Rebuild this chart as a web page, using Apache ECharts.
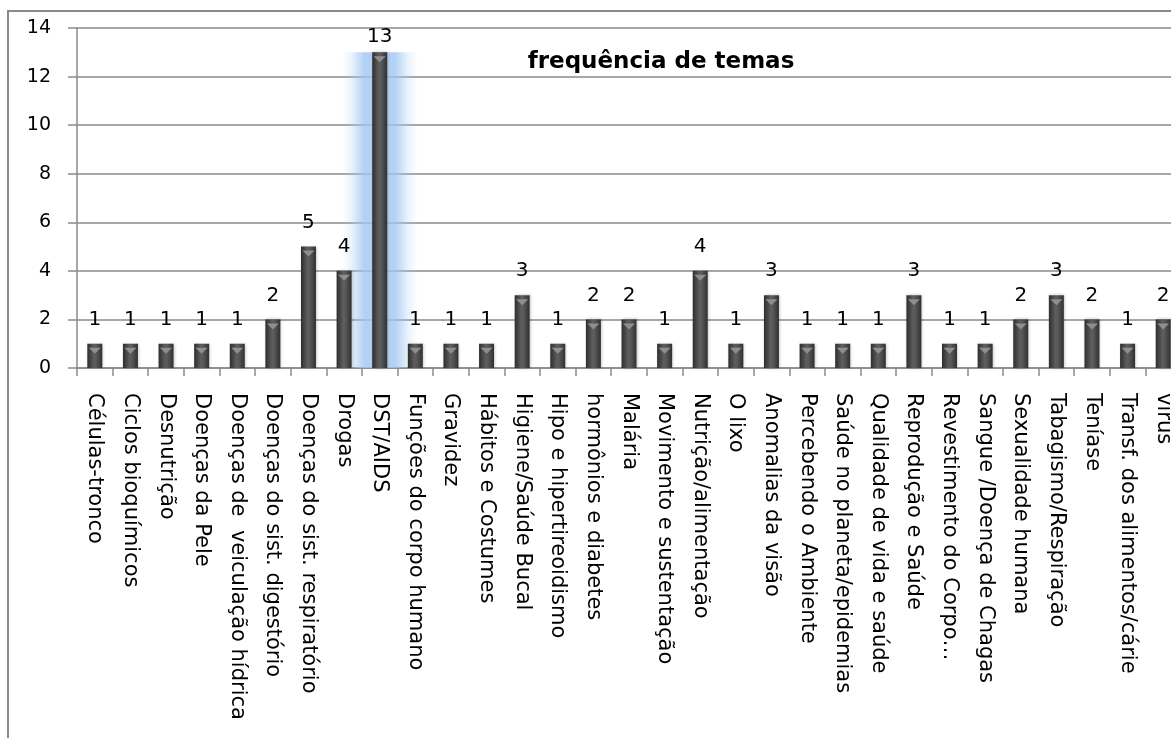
<!DOCTYPE html>
<html>
<head>
<meta charset="utf-8">
<script src="https://cdn.jsdelivr.net/npm/echarts@6/dist/echarts.min.js"></script>
<style>
html,body{margin:0;padding:0;background:#fff;overflow:hidden;width:1171px;height:738px;}
#frame{position:absolute;left:7px;top:10px;width:1300px;height:800px;border:2px solid #8a8a8a;box-sizing:border-box;}
#chart{position:absolute;left:0;top:0;width:1200px;height:738px;}
</style>
</head>
<body>
<div id="frame"></div>
<div id="chart"></div>
<script>
const categories = [
  "Células-tronco","Ciclos bioquímicos","Desnutrição","Doenças da Pele",
  "Doenças de  veiculação hídrica","Doenças do sist. digestório","Doenças do sist. respiratório",
  "Drogas","DST/AIDS","Funções do corpo humano","Gravidez","Hábitos e Costumes",
  "Higiene/Saúde Bucal","Hipo e hipertireoidismo","hormônios e diabetes","Malária",
  "Movimento e sustentação","Nutrição/alimentação","O lixo","Anomalias da visão",
  "Percebendo o Ambiente","Saúde no planeta/epidemias","Qualidade de vida e saúde",
  "Reprodução e Saúde","Revestimento do Corpo…","Sangue /Doença de Chagas",
  "Sexualidade humana","Tabagismo/Respiração","Teníase","Transf. dos alimentos/cárie","vírus"
];
const frequencia = [1,1,1,1,1,2,5,4,13,1,1,1,3,1,2,2,1,4,1,3,1,1,1,3,1,1,2,3,2,1,2];
const yTicks = [0,2,4,6,8,10,12,14];
const titleText = "frequência de temas";
const highlightCategory = "DST/AIDS";

const FONT = "DejaVu Sans";
const barGrad = new echarts.graphic.LinearGradient(0,0,1,0,[
  {offset:0,color:'#2e2e2e'},{offset:0.45,color:'#5e5e5e'},{offset:0.6,color:'#585858'},{offset:1,color:'#303030'}
]);
const glowGrad = new echarts.graphic.LinearGradient(0,0,1,0,[
  {offset:0,color:'rgba(160,198,242,0)'},
  {offset:0.12,color:'rgba(160,198,242,0.2)'},
  {offset:0.3,color:'rgba(160,198,242,0.8)'},
  {offset:0.7,color:'rgba(160,198,242,0.8)'},
  {offset:0.88,color:'rgba(160,198,242,0.2)'},
  {offset:1,color:'rgba(160,198,242,0)'}
]);

const barData = frequencia.map((v,i)=>{
  const d = {value:v};
  if (categories[i] === highlightCategory) d.label = {distance:5};
  return d;
});
const glowData = frequencia.map((v,i)=> categories[i] === highlightCategory ? v : '-');

const chart = echarts.init(document.getElementById('chart'));
chart.setOption({
  animation:false,
  title:{text:titleText,left:656,top:46,textAlign:'center',
    textStyle:{fontFamily:FONT,fontWeight:'bold',fontSize:23,color:'#000'}},
  grid:{left:77,top:28,bottom:370,right:19,containLabel:false},
  xAxis:{type:'category',data:categories,
    axisLine:{lineStyle:{color:'#8a8a8a',width:1.5}},
    axisTick:{show:true,length:8,alignWithLabel:false,lineStyle:{color:'#8a8a8a',width:1.5}},
    axisLabel:{rotate:-90,interval:0,margin:25,fontFamily:FONT,fontSize:21,color:'#000'}},
  yAxis:{type:'value',min:yTicks[0],max:yTicks[yTicks.length-1],interval:2,
    axisLine:{show:true,lineStyle:{color:'#8a8a8a',width:1.5}},
    axisTick:{show:true,length:9,lineStyle:{color:'#8a8a8a',width:1.5}},
    splitLine:{lineStyle:{color:'#8a8a8a',width:1.5}},
    axisLabel:{margin:26,fontFamily:FONT,fontSize:19,color:'#000'}},
  series:[
    {type:'pictorialBar',data:glowData,symbol:'rect',symbolSize:[76,'100%'],symbolPosition:'start',z:1,silent:true,
      itemStyle:{color:glowGrad}},
    {type:'bar',data:barData,barWidth:15,z:3,
      itemStyle:{color:barGrad,shadowColor:'rgba(0,0,0,0.25)',shadowBlur:3,shadowOffsetX:1,shadowOffsetY:0},
      label:{show:true,position:'top',distance:14,fontFamily:FONT,fontSize:20,color:'#000'}},
    {type:'pictorialBar',data:frequencia,symbol:'triangle',symbolRotate:180,symbolSize:[12,6],
      symbolPosition:'end',symbolOffset:[0,4],z:4,silent:true,
      itemStyle:{color:'#8e8e8e'}}
  ]
});
</script>
</body>
</html>
